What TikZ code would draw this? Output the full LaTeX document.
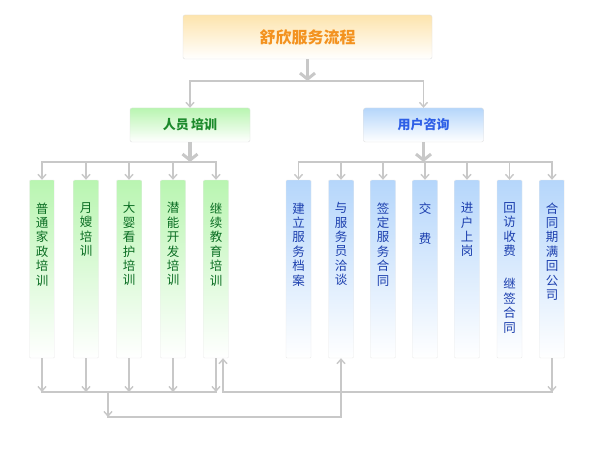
\documentclass[tikz,border=0pt]{standalone}
\usepackage{fontspec}
\setmainfont{Noto Sans CJK SC}
\usetikzlibrary{arrows.meta}
\definecolor{lgray}{HTML}{C8C8C8}
\definecolor{gtop}{HTML}{B9F5B1}
\definecolor{btop}{HTML}{B5D6FB}
\definecolor{gtext}{HTML}{0B6E23}
\definecolor{btext}{HTML}{1C3FAE}
\definecolor{stext}{HTML}{1C8A2C}
\definecolor{utext}{HTML}{2E5FE6}
\definecolor{ttext}{HTML}{F3921F}
\definecolor{ttop}{HTML}{FDE4AD}
\newcommand\vstack[1]{\parbox[c][178pt][t]{14pt}{\fontsize{12.5pt}{14.4pt}\selectfont\centering\vspace*{22.5pt}#1\par}}
\begin{document}
\begin{tikzpicture}[x=1pt,y=-1pt,
  line/.style={draw=lgray, line width=1.6pt, line cap=rect},
  tarrow/.style={draw=lgray, line width=1.6pt, -{Straight Barb[length=4.5pt,width=8pt,line width=1.4pt]}},
  barrow/.style={draw=lgray, line width=3.5pt, -{Straight Barb[length=6pt,width=15pt,line width=3pt]}},
  titlebox/.style={rectangle, rounded corners=2pt, minimum width=249pt, minimum height=44pt, inner sep=0pt,
    top color=ttop, bottom color=white, draw=black!12, text=ttext,
    font=\fontsize{16pt}{16pt}\selectfont\bfseries},
  midbox/.style={rectangle, rounded corners=2pt, minimum width=120pt, minimum height=34pt, inner sep=0pt,
    bottom color=white, draw=black!12, font=\fontsize{13pt}{13pt}\selectfont\bfseries},
  gmid/.style={midbox, top color=gtop, text=stext},
  bmid/.style={midbox, top color=btop, text=utext},
  col/.style={rectangle, rounded corners=1pt, minimum width=25pt, minimum height=178pt, inner sep=0pt, draw=black!8},
  gcol/.style={col, top color=gtop, middle color=gtop!35!white, bottom color=white, text=gtext},
  bcol/.style={col, top color=btop, middle color=btop!35!white, bottom color=white, text=btext}]
\path[fill=white, use as bounding box] (0,0) rectangle (596,457);

\node[titlebox] (title) at (307.5,37) {舒欣服务流程};
\node[gmid] (staff) at (190,125) {人员\,培训};
\node[bmid] (user) at (423.5,125) {用户咨询};

\node[gcol] (c1) at (42,269) {\vstack{普\\通\\家\\政\\培\\训}};
\node[gcol] (c2) at (86,269) {\vstack{月\\嫂\\培\\训}};
\node[gcol] (c3) at (129,269) {\vstack{大\\婴\\看\\护\\培\\训}};
\node[gcol] (c4) at (173,269) {\vstack{潜\\能\\开\\发\\培\\训}};
\node[gcol] (c5) at (216,269) {\vstack{继\\续\\教\\育\\培\\训}};

\node[bcol] (r1) at (298.5,269) {\vstack{建\\立\\服\\务\\档\\案}};
\node[bcol] (r2) at (341,269) {\vstack{与\\服\\务\\员\\洽\\谈}};
\node[bcol] (r3) at (383,269) {\vstack{签\\定\\服\\务\\合\\同}};
\node[bcol] (r4) at (425,269) {\vstack{交\\[2pt]~\\费}};
\node[bcol] (r5) at (467,269) {\vstack{进\\户\\上\\岗}};
\node[bcol] (r6) at (509.5,269) {\vstack{回\\访\\收\\费\\[4.5pt]~\\继\\签\\合\\同}};
\node[bcol] (r7) at (552,269) {\vstack{合\\同\\期\\满\\回\\公\\司}};

% top connectors
\coordinate (h0) at (307,81);
\coordinate (h1) at (0,162);
\coordinate (h2) at (0,392);
\coordinate (h3) at (0,417);
\draw[barrow] (title.south) -- (title.south |- h0);
\draw[line] (staff.north |- h0) -- (user.north |- h0);
\draw[tarrow] (staff.north |- h0) -- (staff.north);
\draw[tarrow] (user.north |- h0) -- (user.north);

\draw[barrow] (staff.south) -- (staff.south |- h1);
\draw[line] (c1.north |- h1) -- (c5.north |- h1);
\foreach \c in {c1,c2,c3,c4,c5} \draw[tarrow] (\c.north |- h1) -- (\c.north);

\draw[barrow] (user.south) -- (user.south |- h1);
\draw[line] (r1.north |- h1) -- (r7.north |- h1);
\foreach \c in {r1,r2,r3,r4,r5,r6,r7} \draw[tarrow] (\c.north |- h1) -- (\c.north);

% bottom connectors
\foreach \c in {c1,c2,c3,c4,c5} \draw[tarrow] (\c.south) -- (\c.south |- h2);
\draw[line] (c1.south |- h2) -- (c5.south |- h2);
\coordinate (m) at (108,392);
\draw[tarrow] (m) -- (m |- h3);
\draw[line] (m |- h3) -- (r2.south |- h3);
\draw[tarrow] (r2.south |- h3) -- (r2.south);
\coordinate (c5r) at ([xshift=7pt]c5.south);
\draw[tarrow] (r7.south) -- (r7.south |- h2);
\draw[line] (r7.south |- h2) -- (c5r |- h2);
\draw[tarrow] (c5r |- h2) -- (c5r);
\end{tikzpicture}
\end{document}
